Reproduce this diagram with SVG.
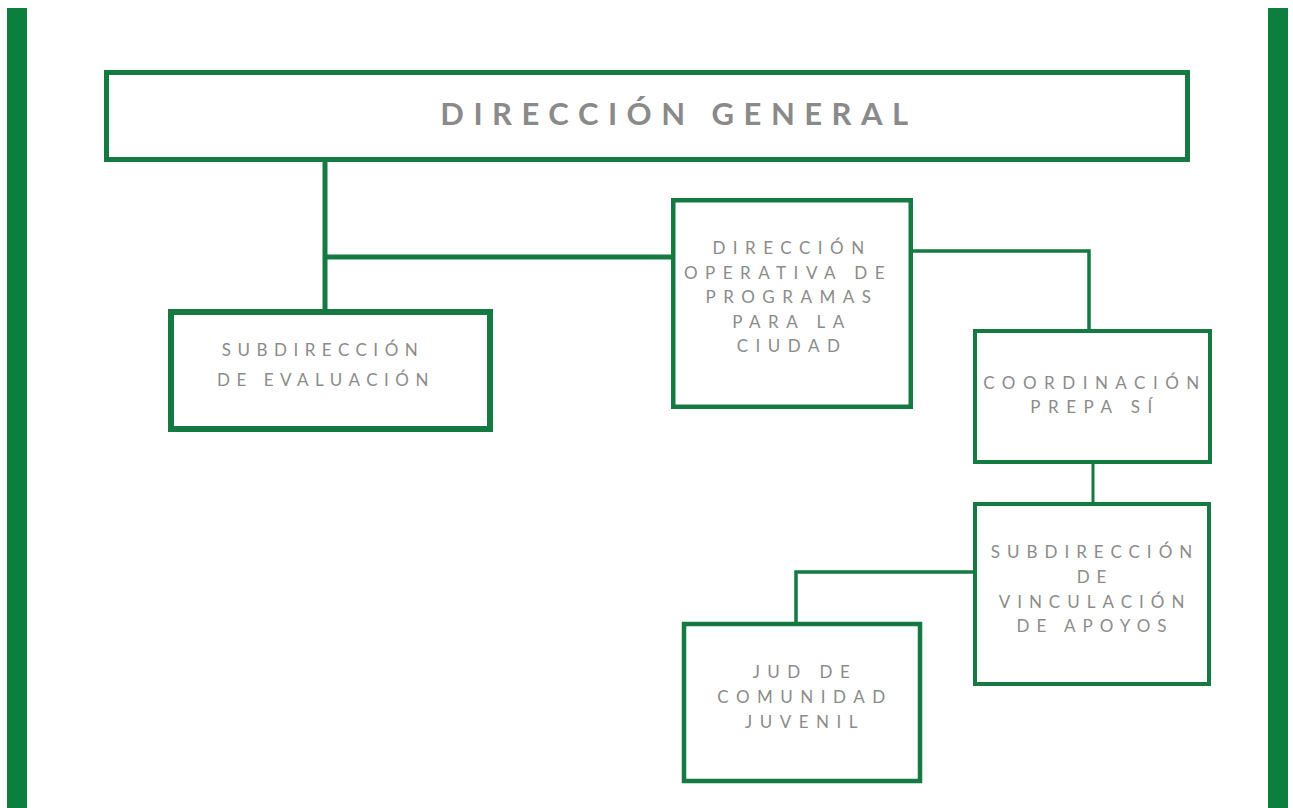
<svg xmlns="http://www.w3.org/2000/svg" width="1293" height="808" viewBox="0 0 1293 808">
<style>
.bar{fill:#0c7f3f}
.box{fill:#ffffff;stroke:#157a42;stroke-width:4.5}
.con{fill:none;stroke:#157a42;stroke-width:3.5}
.t{font-family:Lato,"Liberation Sans",sans-serif;font-size:17px;fill:#8b8b8b;text-anchor:middle;letter-spacing:6.5px}
.tt{font-family:Lato,"Liberation Sans",sans-serif;font-size:31px;font-weight:bold;fill:#8a8a8a;text-anchor:middle;letter-spacing:9.5px}
</style>
<rect width="1293" height="808" fill="#ffffff"/>
<rect class="bar" x="7" y="8" width="20" height="800"/>
<rect class="bar" x="1268" y="8" width="20" height="800"/>
<g id="connectors">
<path class="con" d="M325 162 V309" style="stroke-width:5"/>
<path class="con" d="M325 257 H671" style="stroke-width:5"/>
<path class="con" d="M913 251 H1089 V329"/>
<path class="con" d="M1093 464 V502" style="stroke-width:3"/>
<path class="con" d="M973 572 H796 V622"/>
</g>
<g id="direccion-general">
<rect class="box" x="106.5" y="72.5" width="1081" height="87" style="stroke-width:5"/>
<text class="tt" x="679" y="125">DIRECCIÓN GENERAL</text>
</g>
<g id="subdireccion-evaluacion">
<rect class="box" x="171" y="312" width="319" height="117" style="stroke-width:6"/>
<text class="t" x="323" y="356">SUBDIRECCIÓN</text>
<text class="t" x="326" y="386">DE EVALUACIÓN</text>
</g>
<g id="direccion-operativa">
<rect class="box" x="673.25" y="200.25" width="237.5" height="206.5"/>
<text class="t" x="792" y="254" style="letter-spacing:7.5px">DIRECCIÓN</text>
<text class="t" x="788" y="279" style="letter-spacing:7.5px">OPERATIVA DE</text>
<text class="t" x="792" y="303" style="letter-spacing:7.5px">PROGRAMAS</text>
<text class="t" x="792" y="328" style="letter-spacing:7.5px">PARA LA</text>
<text class="t" x="792" y="352" style="letter-spacing:7.5px">CIUDAD</text>
</g>
<g id="coordinacion-prepa-si">
<rect class="box" x="975" y="331" width="235" height="131" style="stroke-width:4"/>
<text class="t" x="1095" y="389" style="letter-spacing:7.5px">COORDINACIÓN</text>
<text class="t" x="1095" y="413" style="letter-spacing:7.5px">PREPA SÍ</text>
</g>
<g id="subdireccion-vinculacion">
<rect class="box" x="975" y="504" width="234" height="180" style="stroke-width:4"/>
<text class="t" x="1095" y="558" style="letter-spacing:7px">SUBDIRECCIÓN</text>
<text class="t" x="1095" y="583" style="letter-spacing:7px">DE</text>
<text class="t" x="1095" y="608" style="letter-spacing:7px">VINCULACIÓN</text>
<text class="t" x="1095" y="632" style="letter-spacing:7px">DE APOYOS</text>
</g>
<g id="jud-comunidad-juvenil">
<rect class="box" x="684" y="624" width="236" height="157"/>
<text class="t" x="805" y="678" style="letter-spacing:7.5px">JUD DE</text>
<text class="t" x="805" y="703" style="letter-spacing:7.5px">COMUNIDAD</text>
<text class="t" x="805" y="728" style="letter-spacing:7.5px">JUVENIL</text>
</g>
</svg>
